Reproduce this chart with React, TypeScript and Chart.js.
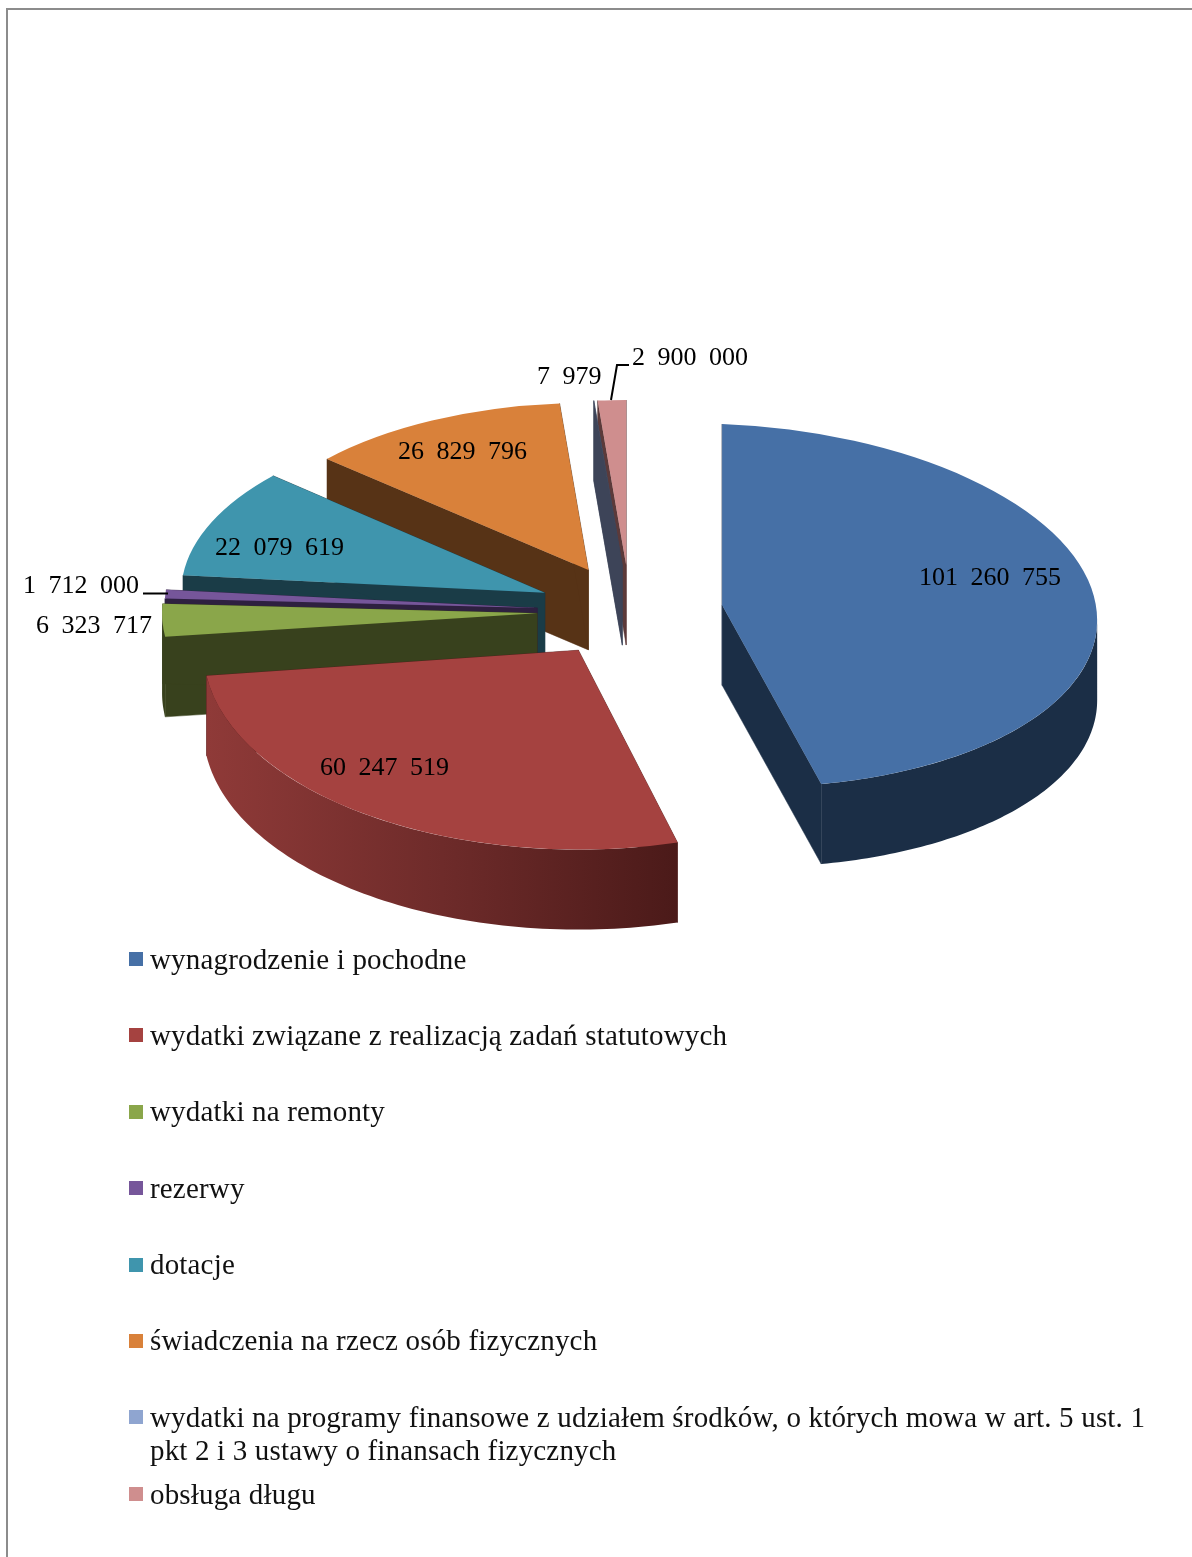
import React, { useEffect, useRef } from "react";
import { Chart, registerables } from "chart.js";

Chart.register(...registerables);

const categories = [
  "wynagrodzenie i pochodne",
  "wydatki związane z realizacją zadań statutowych",
  "wydatki na remonty",
  "rezerwy",
  "dotacje",
  "świadczenia na rzecz osób fizycznych",
  "wydatki na programy finansowe z udziałem środków, o których mowa w art. 5 ust. 1 pkt 2 i 3 ustawy o finansach fizycznych",
  "obsługa długu",
];
const values = [101260755, 60247519, 6323717, 1712000, 22079619, 26829796, 7979, 2900000];
const valueLabels = ["101 260 755", "60 247 519", "6 323 717", "1 712 000", "22 079 619", "26 829 796", "7 979", "2 900 000"];
const labelX = [919, 320, 36, 23, 215, 398, 537, 632];
const labelY = [578.5, 768.5, 626.5, 586.5, 548.5, 452.5, 377.5, 358.5];
const topColors = ["#4670A6", "#A54240", "#8AA64A", "#76569A", "#3F95AD", "#D9813A", "#8FA5D0", "#CF8E8E"];
const sideColors = ["#1B2E46", "#4F1C1B", "#38411D", "#2E2040", "#1A3C47", "#573316", "#3D4458", "#5C3A3A"];

const CENTER_Y = 611.5;
const DEPTH = 80;
const EXPLODE = 93;
const RADIUS = 375;

// Pseudo-perspective per slice: back slices are flatter and narrower than front ones.
function setup(arc: any) {
  const m = (arc.startAngle + arc.endAngle) / 2;
  const sinM = Math.sin(m);
  const cosM = Math.cos(m);
  const s = 0.49 + 0.05 * sinM;
  const sx = cosM < 0 && sinM < 0 ? 1 - 0.075 * Math.abs(sinM) : 1;
  const k = 0.04 * Math.max(0, cosM);
  const apexX = arc.x + EXPLODE * cosM;
  const apexY = CENTER_Y + 0.5 * EXPLODE * sinM;
  const px = (a: number, r: number) => apexX + sx * r * Math.cos(a);
  const py = (a: number, r: number) => apexY + s * r * Math.sin(a) + k * r * Math.cos(a);
  return { m, s, sx, k, apexX, apexY, px, py };
}

function drawFace(ctx: CanvasRenderingContext2D, g: any, a: number, r: number, color: string) {
  const x = g.px(a, r);
  const y = g.py(a, r);
  ctx.fillStyle = color;
  ctx.strokeStyle = color;
  ctx.lineWidth = 0.5;
  ctx.beginPath();
  ctx.moveTo(g.apexX, g.apexY);
  ctx.lineTo(x, y);
  ctx.lineTo(x, y + DEPTH);
  ctx.lineTo(g.apexX, g.apexY + DEPTH);
  ctx.closePath();
  ctx.fill();
  ctx.stroke();
}

function drawWall(ctx: CanvasRenderingContext2D, arc: any, g: any, idx: number) {
  const from = Math.max(arc.startAngle, 0);
  const to = Math.min(arc.endAngle, Math.PI);
  if (to <= from) return;
  const r = arc.outerRadius;
  let fill: any = sideColors[idx];
  if (idx === 1) {
    const grad = ctx.createLinearGradient(g.px(to, r), 0, g.px(from, r), 0);
    grad.addColorStop(0, "#8F3A38");
    grad.addColorStop(0.5, "#6E2B2A");
    grad.addColorStop(1, "#4B1A19");
    fill = grad;
  }
  ctx.fillStyle = fill;
  ctx.beginPath();
  const steps = 80;
  for (let j = 0; j <= steps; j++) {
    const a = from + ((to - from) * j) / steps;
    ctx.lineTo(g.px(a, r), g.py(a, r));
  }
  for (let j = steps; j >= 0; j--) {
    const a = from + ((to - from) * j) / steps;
    ctx.lineTo(g.px(a, r), g.py(a, r) + DEPTH);
  }
  ctx.closePath();
  ctx.fill();
}

const pie3d = {
  id: "pie3d",
  beforeDatasetsDraw(chart: any) {
    const ctx: CanvasRenderingContext2D = chart.ctx;
    const arcs: any[] = chart.getDatasetMeta(0).data;
    const order = arcs
      .map((arc, i) => ({ arc, i, g: setup(arc) }))
      .sort((a, b) => Math.sin(a.g.m) - Math.sin(b.g.m));
    for (const { arc, i, g } of order) {
      const r = arc.outerRadius;
      drawFace(ctx, g, arc.startAngle, r, sideColors[i]);
      drawFace(ctx, g, arc.endAngle, r, sideColors[i]);
      drawWall(ctx, arc, g, i);
      ctx.save();
      ctx.transform(g.sx, g.k, 0, g.s, g.apexX, g.apexY);
      ctx.translate(-arc.x, -arc.y);
      arc.draw(ctx);
      ctx.restore();
    }
  },
  beforeDatasetDraw() {
    return false;
  },
  afterDraw(chart: any) {
    const ctx: any = chart.ctx;
    ctx.save();
    ctx.fillStyle = "#000";
    ctx.font = '26px "Liberation Serif"';
    ctx.wordSpacing = "6px";
    ctx.textAlign = "left";
    ctx.textBaseline = "middle";
    valueLabels.forEach((t, i) => ctx.fillText(t, labelX[i], labelY[i]));
    ctx.strokeStyle = "#000";
    ctx.lineWidth = 2;
    ctx.beginPath();
    ctx.moveTo(143, 593.5);
    ctx.lineTo(168, 593.5);
    ctx.moveTo(611, 400);
    ctx.lineTo(617, 365);
    ctx.lineTo(629, 365);
    ctx.stroke();
    ctx.restore();
  },
};

export default function App() {
  const ref = useRef<HTMLCanvasElement>(null);
  useEffect(() => {
    const chart = new Chart(ref.current!, {
      type: "pie",
      data: {
        labels: categories,
        datasets: [
          {
            data: values,
            backgroundColor: topColors,
            borderWidth: 0,
            radius: RADIUS,
          } as any,
        ],
      },
      options: {
        responsive: false,
        animation: false,
        layout: { padding: { left: 68 } },
        plugins: { legend: { display: false }, tooltip: { enabled: false } },
      },
      plugins: [pie3d as any],
    });
    return () => chart.destroy();
  }, []);

  return (
    <div style={{ position: "absolute", left: 0, top: 0, width: 1192, height: 1557, overflow: "hidden", background: "#fff", filter: "blur(0.4px)" }}>
      <div style={{ position: "absolute", left: 6, top: 8, width: 1186, height: 1549, borderLeft: "2px solid #8C8C8C", borderTop: "2px solid #8C8C8C", boxSizing: "border-box" }} />
      <canvas ref={ref} width={1192} height={1557} style={{ position: "absolute", left: 0, top: 0, width: 1192, height: 1557 }} />
      <div style={{ position: "absolute", left: 129, top: 942.5, width: 1030, fontFamily: '"Liberation Serif"', fontSize: 29, letterSpacing: 0.17, lineHeight: "33px", color: "#111" }}>
        {categories.map((c, i) => (
          <div key={c} style={{ position: "relative", paddingLeft: 21, marginBottom: i === 6 ? 11 : 43.4 }}>
            <span style={{ position: "absolute", left: 0, top: 9.5, width: 14, height: 14, background: topColors[i] }} />
            {c}
          </div>
        ))}
      </div>
    </div>
  );
}
